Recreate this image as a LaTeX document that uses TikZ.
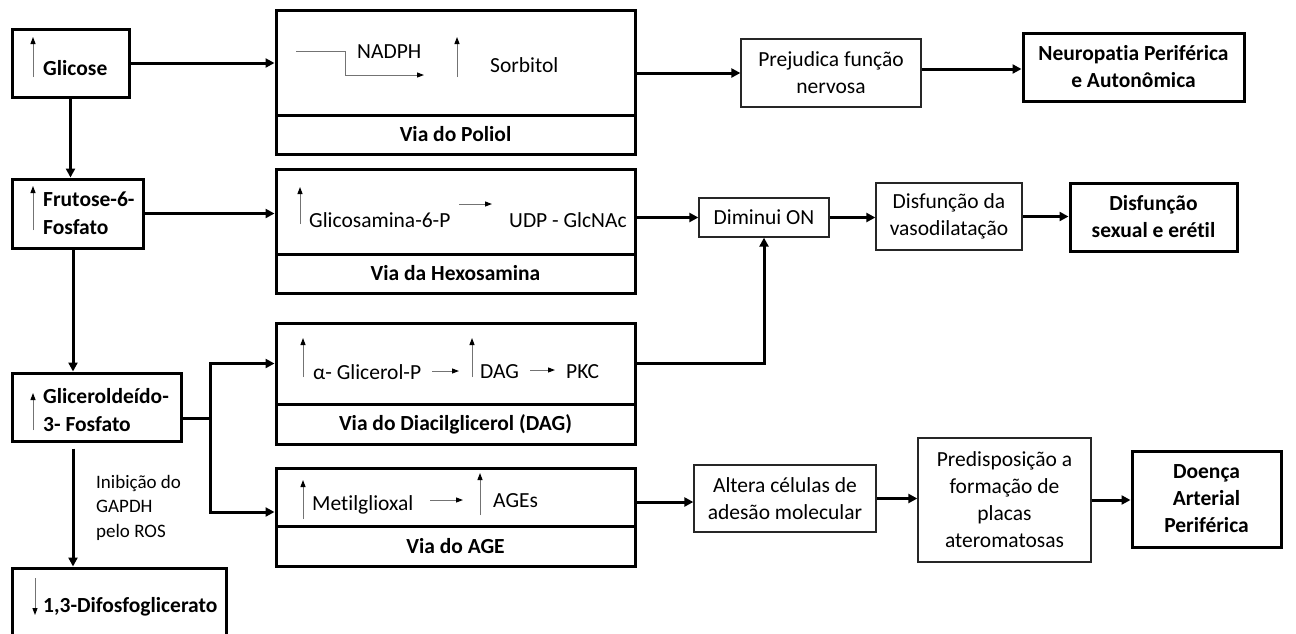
\documentclass[tikz,border=0pt]{standalone}
\usepackage{fontspec}
\setmainfont{Carlito}[Ligatures=NoCommon]
\usetikzlibrary{arrows.meta}
\begin{document}
\begin{tikzpicture}[x=1pt,y=-1pt,
  every node/.style={font=\fontsize{21.5}{27}\selectfont},
  thickbox/.style={draw, line width=3pt, inner sep=0pt, align=center, font=\fontsize{21.5}{27}\selectfont\bfseries},
  thinbox/.style={draw=black!85, line width=1.3pt, inner sep=0pt, align=center},
  txt/.style={inner sep=0pt, anchor=west, align=left},
  btxt/.style={inner sep=0pt, anchor=west, align=left, font=\fontsize{21.5}{28}\selectfont\bfseries},
  conn/.style={line width=3pt, -{Triangle[length=9pt,width=9pt]}},
  plainline/.style={line width=3pt},
  small/.style={draw=black!55, line width=1pt, -{Triangle[length=7pt,width=5pt,black]}}
]
\clip (0,0) rectangle (1296,633);
\fill[white] (0,0) rectangle (1296,633);

% left column
\node[thickbox, minimum width=117pt, minimum height=68pt] (glicose) at (70.5,63) {};
\node[btxt] (glicoseT) at (43,68) {Glicose};
\node[thickbox, minimum width=131pt, minimum height=69pt] (frutose) at (77.5,213.5) {};
\node[btxt] (frutoseT) at (43,213) {Frutose-6-\\Fosfato};
\node[thickbox, minimum width=169pt, minimum height=68pt] (glicer) at (96.5,407) {};
\node[btxt] (glicerT) at (43,410.5) {Gliceroldeído-\\3- Fosfato};
\node[thickbox, minimum width=214pt, minimum height=80pt] (difos) at (119,608) {};
\node[btxt] (difosT) at (43,607) {1,3-Difosfoglicerato};
\node[txt, font=\fontsize{19}{24.5}\selectfont] (inib) at (96,507.5) {Inibição do\\GAPDH\\pelo ROS};

% pathway boxes
\node[thickbox, minimum width=359pt, minimum height=105pt] (poliol) at (455.5,62.5) {};
\node[thickbox, minimum width=359pt, minimum height=39pt] (poliolL) at (455.5,134.5) {Via do Poliol};
\node[thickbox, minimum width=359pt, minimum height=85pt] (hexo) at (455.5,211.5) {};
\node[thickbox, minimum width=359pt, minimum height=39pt] (hexoL) at (455.5,273.5) {Via da Hexosamina};
\node[thickbox, minimum width=359pt, minimum height=81pt] (dag) at (455.5,363.5) {};
\node[thickbox, minimum width=359pt, minimum height=40pt] (dagL) at (455.5,424) {Via do Diacilglicerol (DAG)};
\node[thickbox, minimum width=359pt, minimum height=58pt] (age) at (455.5,497) {};
\node[thickbox, minimum width=359pt, minimum height=40pt] (ageL) at (455.5,546) {Via do AGE};

% pathway contents
\node[txt] (nadph) at (357,52) {NADPH};
\node[txt] (sorb) at (490,65) {Sorbitol};
\draw[small] (296,51) -- (345,51) -- (345,75) -- (424,75);
\node[txt] (glcn) at (309,220) {Glicosamina-6-P};
\node[txt] (udp) at (509,220) {UDP - GlcNAc};
\draw[small] (459,204) -- (492,204);
\node[txt] (agp) at (313,372) {α- Glicerol-P};
\node[txt] (dagT) at (480,372) {DAG};
\node[txt] (pkc) at (566,372) {PKC};
\draw[small] (432,371) -- (459,371);
\draw[small] (530,370) -- (555,370);
\node[txt] (metil) at (312,505) {Metilglioxal};
\node[txt] (ages) at (493,501) {AGEs};
\draw[small] (430,500) -- (463,500);

% up / down markers
\draw[small] (33,77) -- (33,37);
\draw[small] (33,230) -- (33,186);
\draw[small] (33,430) -- (33,393);
\draw[small] (35,578) -- (35,615);
\draw[small] (457,77) -- (457,37);
\draw[small] (300,224) -- (300,187);
\draw[small] (303,377) -- (303,338);
\draw[small] (472,377) -- (472,338);
\draw[small] (303,519) -- (303,480);
\draw[small] (480,515) -- (480,473);

% right boxes
\node[thinbox, minimum width=180pt, minimum height=68pt] (prej) at (831,73) {Prejudica função\\nervosa};
\node[thickbox, minimum width=221pt, minimum height=68pt] (neuro) at (1133.5,67) {Neuropatia Periférica\\e Autonômica};
\node[thinbox, minimum width=130pt, minimum height=39pt] (dimin) at (764,217.5) {Diminui ON};
\node[thinbox, minimum width=146pt, minimum height=67pt] (vaso) at (949,216.5) {Disfunção da\\vasodilatação};
\node[thickbox, minimum width=167pt, minimum height=68pt] (sexual) at (1153.5,217) {Disfunção\\sexual e erétil};
\node[thinbox, minimum width=182pt, minimum height=67pt] (alt) at (785,498.5) {Altera células de\\adesão molecular};
\node[thinbox, minimum width=173pt, minimum height=124pt] (predis) at (1004.5,500) {Predisposição a\\formação de\\placas\\ateromatosas};
\node[thickbox, minimum width=149pt, minimum height=96pt] (doenca) at (1206.5,499) {Doença\\Arterial\\Periférica};

\coordinate (spine) at (73,0);
\coordinate (br) at (210,418);

% connectors
\draw[conn] (glicose.east) -- (glicose.east -| poliol.west);
\draw[conn] (poliol.east |- prej.west) -- (prej.west);
\draw[conn] ([yshift=4pt]prej.east) -- ([yshift=4pt]prej.east -| neuro.west);
\draw[conn] (glicose.south) -- (glicose.south |- frutose.north);
\draw[conn] (frutose.east) -- (frutose.east -| hexo.west);
\draw[conn] (frutose.south -| spine) -- (spine |- glicer.north);
\draw[conn] (hexo.east |- dimin.west) -- (dimin.west);
\draw[conn] (dimin.east) -- (dimin.east -| vaso.west);
\draw[conn] (vaso.east) -- (vaso.east -| sexual.west);
\draw[plainline] (glicer.east |- br) -- (br);
\draw[conn] (br) |- (dag.west);
\draw[conn] (br) |- ([yshift=-15pt]age.west);
\draw[conn] (dag.east) -| (dimin.south);
\draw[conn] ([yshift=-5pt]age.east) -- ([yshift=-5pt]age.east -| alt.west);
\draw[conn] (alt.east) -- (alt.east -| predis.west);
\draw[conn] (predis.east) -- (predis.east -| doenca.west);
\draw[conn] ([yshift=-6pt]glicer.south -| spine) -- (spine |- difos.north);
\end{tikzpicture}
\end{document}
